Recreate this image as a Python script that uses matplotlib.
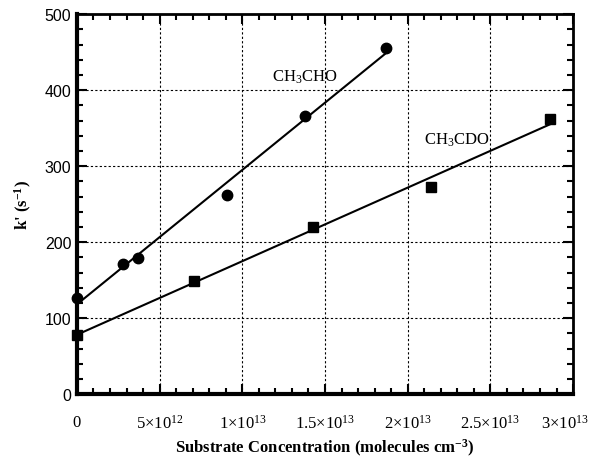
import numpy as np
import matplotlib
matplotlib.use("Agg")
import matplotlib.pyplot as plt
from matplotlib.ticker import MultipleLocator, FixedLocator
from matplotlib.transforms import ScaledTranslation

# data
cho_conc = [0, 2.8e12, 3.7e12, 9.1e12, 1.38e13, 1.87e13]
cho_k = [127, 171, 179, 262, 366, 455]
cdo_conc = [0, 7.1e12, 1.43e13, 2.14e13, 2.86e13]
cdo_k = [78, 149, 220, 273, 362]

x_ticks = [0, 5e12, 1e13, 1.5e13, 2e13, 2.5e13, 3e13]
x_labels = ["0", r"5$\times$10$^{12}$", r"1$\times$10$^{13}$", r"1.5$\times$10$^{13}$",
            r"2$\times$10$^{13}$", r"2.5$\times$10$^{13}$", r"3$\times$10$^{13}$"]

plt.rcParams["mathtext.fontset"] = "custom"
plt.rcParams["mathtext.rm"] = "Liberation Serif"
plt.rcParams["mathtext.it"] = "Liberation Serif:italic"
plt.rcParams["mathtext.bf"] = "Liberation Serif:bold"

fig = plt.figure(figsize=(5.92, 4.60), dpi=100)
ax = fig.add_axes([0.130, 0.141, 0.838, 0.826])

# least squares lines through each set
for xs, ys, mk in [(cho_conc, cho_k, "o"), (cdo_conc, cdo_k, "s")]:
    xs = np.array(xs)
    p = np.polyfit(xs, ys, 1)
    xl = np.array([0, xs.max()])
    ax.plot(xl, np.polyval(p, xl), color="black", lw=1.5, zorder=3)
    ax.plot(xs, ys, mk, color="black", ms=7.5, zorder=4, clip_on=False)

ax.set_xlim(0, 3e13)
ax.set_ylim(0, 500)

ax.xaxis.set_major_locator(FixedLocator(x_ticks))
ax.set_xticklabels(x_labels, fontfamily="Liberation Serif", fontsize=12)
ax.xaxis.set_minor_locator(MultipleLocator(1e12))
ax.yaxis.set_major_locator(MultipleLocator(100))
ax.yaxis.set_minor_locator(MultipleLocator(20))
for lab in ax.get_yticklabels():
    lab.set_fontfamily("Liberation Sans")
    lab.set_fontsize(11.5)

ax.tick_params(which="both", direction="in", top=True, right=True, color="black")
ax.tick_params(which="major", length=7, width=1.5)
ax.tick_params(which="minor", length=4, width=1.5)
ax.tick_params(axis="x", which="major", pad=14)
ax.tick_params(axis="y", which="major", pad=4)

# nudge the last x label so it stays inside the figure
last = ax.get_xticklabels()[-1]
last.set_transform(last.get_transform() + ScaledTranslation(-6 / 72, 0, fig.dpi_scale_trans))

for side in ["left", "bottom"]:
    ax.spines[side].set_linewidth(3)
for side in ["top", "right"]:
    ax.spines[side].set_linewidth(2)

ax.grid(True, which="major", color="black", linestyle=(0, (2, 2)), lw=0.8)
ax.set_axisbelow(True)

ax.text(1.18e13, 418, r"CH$_3$CHO", fontfamily="Liberation Serif", fontsize=12, va="center")
ax.text(2.1e13, 335, r"CH$_3$CDO", fontfamily="Liberation Serif", fontsize=12, va="center")

ax.set_xlabel(r"Substrate Concentration (molecules cm$^{\mathbf{-3}}$)",
              fontfamily="Liberation Serif", fontweight="bold", fontsize=12, labelpad=4)
ax.set_ylabel(r"k' (s$^{\mathbf{-1}}$)", fontfamily="Liberation Serif",
              fontweight="bold", fontsize=12, labelpad=8)

fig.savefig("out.png", dpi=100)
